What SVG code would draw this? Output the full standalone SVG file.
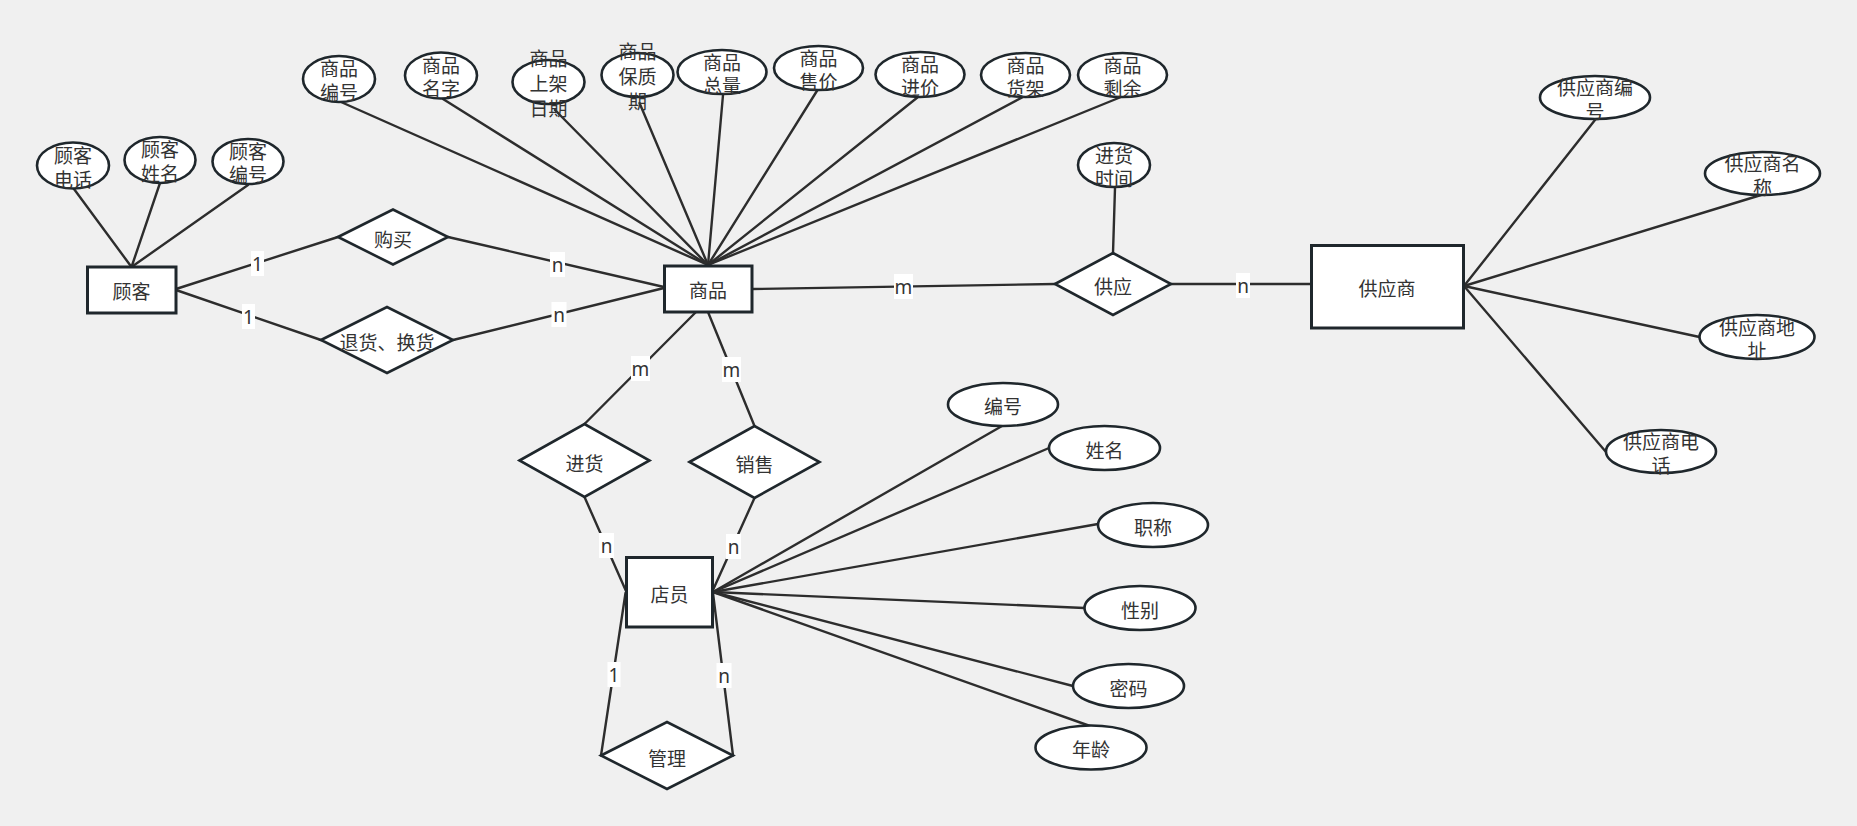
<svg xmlns="http://www.w3.org/2000/svg" width="1857" height="826" viewBox="0 0 1857 826">
<style>
.bg{fill:#f0f0f0}
.ent{fill:#fff;stroke:#1f272c;stroke-width:3}
.rel{fill:#fff;stroke:#1f272c;stroke-width:2.6}
.att{fill:#fff;stroke:#1f272c;stroke-width:2.6}
.ln{stroke:#2d2d2d;stroke-width:2.4;fill:none;stroke-linecap:round}
.t{font-family:"Noto Sans CJK SC","Noto Sans",sans-serif;font-size:19px;fill:#333;text-anchor:middle;dominant-baseline:central}
.lb{fill:#fff}
.lt{font-family:"Noto Sans","Liberation Sans",sans-serif;font-size:19px;fill:#333;text-anchor:middle;dominant-baseline:central}
</style>
<rect class="bg" x="0" y="0" width="1857" height="826"/>
<g id="connectors">
<line class="ln" x1="74" y1="189" x2="131.5" y2="267"/>
<line class="ln" x1="160" y1="183" x2="131.5" y2="267"/>
<line class="ln" x1="248" y1="185" x2="131.5" y2="267"/>
<line class="ln" x1="176" y1="289" x2="338" y2="237"/>
<line class="ln" x1="176" y1="290" x2="321" y2="340"/>
<line class="ln" x1="448" y1="237" x2="664" y2="287"/>
<line class="ln" x1="453" y1="340" x2="664" y2="288"/>
<line class="ln" x1="341" y1="102" x2="708" y2="265"/>
<line class="ln" x1="443" y1="99" x2="708" y2="265"/>
<line class="ln" x1="555" y1="110" x2="708" y2="265"/>
<line class="ln" x1="639.5" y1="103" x2="708" y2="265"/>
<line class="ln" x1="723" y1="95" x2="708" y2="265"/>
<line class="ln" x1="817.5" y1="90" x2="708" y2="265"/>
<line class="ln" x1="918" y1="97" x2="708" y2="265"/>
<line class="ln" x1="1023" y1="97" x2="708" y2="265"/>
<line class="ln" x1="1121" y1="97" x2="708" y2="265"/>
<line class="ln" x1="752" y1="289" x2="1055" y2="284"/>
<line class="ln" x1="1115" y1="188" x2="1113" y2="253"/>
<line class="ln" x1="1171" y1="284" x2="1311" y2="284"/>
<line class="ln" x1="1464" y1="286" x2="1595" y2="120"/>
<line class="ln" x1="1464" y1="286" x2="1761" y2="195"/>
<line class="ln" x1="1464" y1="286" x2="1699.5" y2="337"/>
<line class="ln" x1="1464" y1="286" x2="1606" y2="452"/>
<line class="ln" x1="696" y1="312" x2="584.5" y2="424"/>
<line class="ln" x1="708" y1="312" x2="754.5" y2="426"/>
<line class="ln" x1="584.5" y1="497" x2="626" y2="591"/>
<line class="ln" x1="754.5" y1="498" x2="713" y2="590"/>
<line class="ln" x1="625.5" y1="593" x2="601" y2="755.5"/>
<line class="ln" x1="713" y1="593" x2="733" y2="755.5"/>
<line class="ln" x1="713" y1="592" x2="1002" y2="426"/>
<line class="ln" x1="713" y1="592" x2="1049" y2="448"/>
<line class="ln" x1="713" y1="592" x2="1098" y2="524"/>
<line class="ln" x1="713" y1="592" x2="1084.5" y2="608"/>
<line class="ln" x1="713" y1="592" x2="1073" y2="686"/>
<line class="ln" x1="713" y1="592" x2="1090" y2="726"/>
<g id="labels">
<rect class="lb" x="251" y="251" width="13" height="25"/><text class="lt" x="257.5" y="263.5">1</text>
<rect class="lb" x="242" y="304" width="13" height="25"/><text class="lt" x="248.5" y="316.5">1</text>
<rect class="lb" x="550" y="252" width="15" height="25"/><text class="lt" x="557.5" y="264.5">n</text>
<rect class="lb" x="551.5" y="302" width="15" height="25"/><text class="lt" x="559" y="314.5">n</text>
<rect class="lb" x="894" y="274" width="19" height="25"/><text class="lt" x="903.5" y="286.5">m</text>
<rect class="lb" x="1236" y="273" width="14" height="25"/><text class="lt" x="1243" y="285.5">n</text>
<rect class="lb" x="631" y="356" width="19" height="25"/><text class="lt" x="640.5" y="368.5">m</text>
<rect class="lb" x="722" y="357" width="19" height="25"/><text class="lt" x="731.5" y="369.5">m</text>
<rect class="lb" x="599" y="533" width="15" height="25"/><text class="lt" x="606.5" y="545.5">n</text>
<rect class="lb" x="726" y="534" width="15" height="25"/><text class="lt" x="733.5" y="546.5">n</text>
<rect class="lb" x="607.5" y="662" width="13" height="25"/><text class="lt" x="614" y="674.5">1</text>
<rect class="lb" x="716.5" y="663" width="15" height="25"/><text class="lt" x="724" y="675.5">n</text>
</g>
</g>
<g id="n-guke"><rect class="ent" x="87.5" y="267" width="88.5" height="46"/><text class="t" x="131.5" y="290">顾客</text></g>
<g id="n-guke-dianhua"><ellipse class="att" cx="73" cy="165.5" rx="36" ry="23"/><text class="t" x="73" y="154.5">顾客<tspan x="73" dy="23">电话</tspan></text></g>
<g id="n-guke-xingming"><ellipse class="att" cx="160" cy="160" rx="35.5" ry="23"/><text class="t" x="160" y="148.5">顾客<tspan x="160" dy="23">姓名</tspan></text></g>
<g id="n-guke-bianhao"><ellipse class="att" cx="248" cy="161.5" rx="35.5" ry="22.5"/><text class="t" x="248" y="150">顾客<tspan x="248" dy="23">编号</tspan></text></g>
<g id="n-goumai"><polygon class="rel" points="338,237 393,209.5 448,237 393,264.5"/><text class="t" x="393" y="238">购买</text></g>
<g id="n-tuihuo"><polygon class="rel" points="321,340 387,307 453,340 387,373"/><text class="t" x="387" y="341">退货、换货</text></g>
<g id="n-shangpin"><rect class="ent" x="664.5" y="266" width="87.5" height="46"/><text class="t" x="708" y="289">商品</text></g>
<g id="n-sp-bianhao"><ellipse class="att" cx="339" cy="79" rx="36" ry="23"/><text class="t" x="339" y="67.5">商品<tspan x="339" dy="23">编号</tspan></text></g>
<g id="n-sp-mingzi"><ellipse class="att" cx="441" cy="75.5" rx="36" ry="23"/><text class="t" x="441" y="64">商品<tspan x="441" dy="23">名字</tspan></text></g>
<g id="n-sp-shangjia"><ellipse class="att" cx="548.5" cy="82" rx="36" ry="22"/><text class="t" x="548.5" y="57.5">商品<tspan x="548.5" dy="24.5">上架</tspan><tspan x="548.5" dy="24.5">日期</tspan></text></g>
<g id="n-sp-baozhiqi"><ellipse class="att" cx="637.5" cy="75" rx="36" ry="22"/><text class="t" x="637.5" y="50.5">商品<tspan x="637.5" dy="24.5">保质</tspan><tspan x="637.5" dy="24.5">期</tspan></text></g>
<g id="n-sp-zongliang"><ellipse class="att" cx="722" cy="72" rx="44.5" ry="22"/><text class="t" x="722" y="61">商品<tspan x="722" dy="23">总量</tspan></text></g>
<g id="n-sp-shoujia"><ellipse class="att" cx="818.5" cy="68" rx="44.5" ry="22"/><text class="t" x="818.5" y="57">商品<tspan x="818.5" dy="23">售价</tspan></text></g>
<g id="n-sp-jinjia"><ellipse class="att" cx="920" cy="74.5" rx="44.5" ry="22.5"/><text class="t" x="920" y="63">商品<tspan x="920" dy="23">进价</tspan></text></g>
<g id="n-sp-huojia"><ellipse class="att" cx="1025.5" cy="75" rx="44.5" ry="22"/><text class="t" x="1025.5" y="64">商品<tspan x="1025.5" dy="23">货架</tspan></text></g>
<g id="n-sp-shengyu"><ellipse class="att" cx="1122.5" cy="75" rx="44.5" ry="22"/><text class="t" x="1122.5" y="64">商品<tspan x="1122.5" dy="23">剩余</tspan></text></g>
<g id="n-jinhuoshijian"><ellipse class="att" cx="1114" cy="165" rx="36" ry="22"/><text class="t" x="1114" y="154">进货<tspan x="1114" dy="23">时间</tspan></text></g>
<g id="n-gongying"><polygon class="rel" points="1055,284 1113,253 1171,284 1113,315"/><text class="t" x="1113" y="285">供应</text></g>
<g id="n-gongyingshang"><rect class="ent" x="1311.5" y="245.5" width="152" height="82.5"/><text class="t" x="1387" y="287">供应商</text></g>
<g id="n-gys-bianhao"><ellipse class="att" cx="1595" cy="97.5" rx="55" ry="21.5"/><text class="t" x="1595" y="86.5">供应商编<tspan x="1595" dy="23">号</tspan></text></g>
<g id="n-gys-mingcheng"><ellipse class="att" cx="1762.5" cy="173.5" rx="57.5" ry="21.5"/><text class="t" x="1762.5" y="162.5">供应商名<tspan x="1762.5" dy="23">称</tspan></text></g>
<g id="n-gys-dizhi"><ellipse class="att" cx="1757" cy="337" rx="57.5" ry="22"/><text class="t" x="1757" y="326">供应商地<tspan x="1757" dy="23">址</tspan></text></g>
<g id="n-gys-dianhua"><ellipse class="att" cx="1661" cy="451.5" rx="55" ry="21.5"/><text class="t" x="1661" y="440.5">供应商电<tspan x="1661" dy="23">话</tspan></text></g>
<g id="n-jinhuo"><polygon class="rel" points="519.5,460.5 584.5,424 649.5,460.5 584.5,497"/><text class="t" x="584.5" y="462">进货</text></g>
<g id="n-xiaoshou"><polygon class="rel" points="689.5,462 754.5,426 819.5,462 754.5,498"/><text class="t" x="754.5" y="463">销售</text></g>
<g id="n-dianyuan"><rect class="ent" x="626.5" y="557.5" width="86" height="69.5"/><text class="t" x="669.5" y="593">店员</text></g>
<g id="n-guanli"><polygon class="rel" points="601,755.5 667,722 733,755.5 667,789"/><text class="t" x="667" y="757">管理</text></g>
<g id="n-dy-bianhao"><ellipse class="att" cx="1003" cy="404.5" rx="55" ry="21.5"/><text class="t" x="1003" y="405.5">编号</text></g>
<g id="n-dy-xingming"><ellipse class="att" cx="1104.5" cy="448" rx="55.5" ry="22"/><text class="t" x="1104.5" y="449">姓名</text></g>
<g id="n-dy-zhicheng"><ellipse class="att" cx="1153" cy="525" rx="55" ry="22"/><text class="t" x="1153" y="526">职称</text></g>
<g id="n-dy-xingbie"><ellipse class="att" cx="1140" cy="608" rx="55.5" ry="22"/><text class="t" x="1140" y="609">性别</text></g>
<g id="n-dy-mima"><ellipse class="att" cx="1128.5" cy="686" rx="55.5" ry="22"/><text class="t" x="1128.5" y="687">密码</text></g>
<g id="n-dy-nianling"><ellipse class="att" cx="1091" cy="747.5" rx="55.5" ry="22"/><text class="t" x="1091" y="748.5">年龄</text></g>
</svg>
